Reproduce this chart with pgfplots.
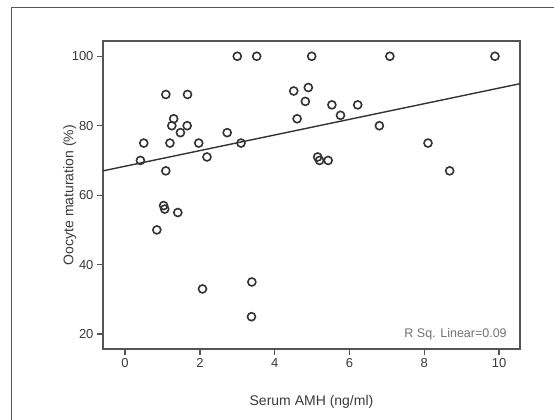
\documentclass[border=0pt]{standalone}
\usepackage{pgfplots}
\pgfplotsset{compat=1.18}
\usepackage{fontspec}
\setmainfont{Liberation Sans}
\definecolor{axgray}{HTML}{555555}
\definecolor{txtgray}{HTML}{3A3A3A}
\definecolor{mkgray}{HTML}{333333}
\begin{document}
\begin{tikzpicture}[x=1pt,y=1pt]
\useasboundingbox (0,0) rectangle (554,420);
\draw[color=axgray, line width=1.2pt] (11.7,0) -- (11.7,412.7) -- (554,412.7);
\begin{axis}[
    at={(103pt,71pt)}, anchor=south west,
    width=417pt, height=308pt, scale only axis,
    xmin=-0.59, xmax=10.56,
    ymin=15.7, ymax=104.4,
    xtick={0,2,4,6,8,10},
    ytick={20,40,60,80,100},
    axis line style={axgray, line width=1.3pt},
    tick style={axgray, line width=1.3pt},
    tick align=outside, major tick length=6pt,
    xtick pos=bottom, ytick pos=left,
    axis background/.style={fill=white},
    /pgf/number format/assume math mode=true,
    ticklabel style={font=\fontsize{13}{15}\selectfont, text=txtgray},
    xlabel={Serum AMH (ng/ml)},
    ylabel={Oocyte maturation (\%)},
    label style={font=\fontsize{14}{16}\selectfont, text=txtgray},
    xlabel style={at={(axis description cs:0.5,-0.172)}, anchor=center},
    ylabel style={at={(axis description cs:-0.08,0.5)}, anchor=center},
    clip=false,
]
\addplot[only marks, mark=o, mark size=4pt, mkgray, mark options={line width=1.6pt}]
coordinates {
(0.41,70) (0.50,75) (1.09,89) (1.09,67) (1.20,75) (1.30,82) (1.25,80)
(1.48,78) (1.67,89) (1.66,80) (1.97,75) (2.19,71) (2.73,78) (3.10,75)
(3.00,100) (3.52,100) (4.51,90) (4.60,82) (4.82,87) (4.90,91) (4.99,100)
(7.08,100) (9.89,100) (5.53,86) (6.22,86) (5.76,83) (6.80,80)
(8.10,75) (8.68,67) (5.15,71) (5.20,70) (5.43,70)
(1.03,57) (1.06,56) (1.41,55) (0.85,50) (2.07,33) (3.39,35) (3.38,25)
};
\addplot[mkgray, line width=1.4pt] coordinates {(-0.59,67.0) (10.56,92.1)};
\node[anchor=south east, fill=white, inner xsep=6pt, inner ysep=5pt,
      font=\fontsize{12.5}{14}\selectfont, text=gray!90!black]
  at (axis description cs:0.983,0.013) {R Sq. Linear=0.09};
\end{axis}
\end{tikzpicture}
\end{document}
